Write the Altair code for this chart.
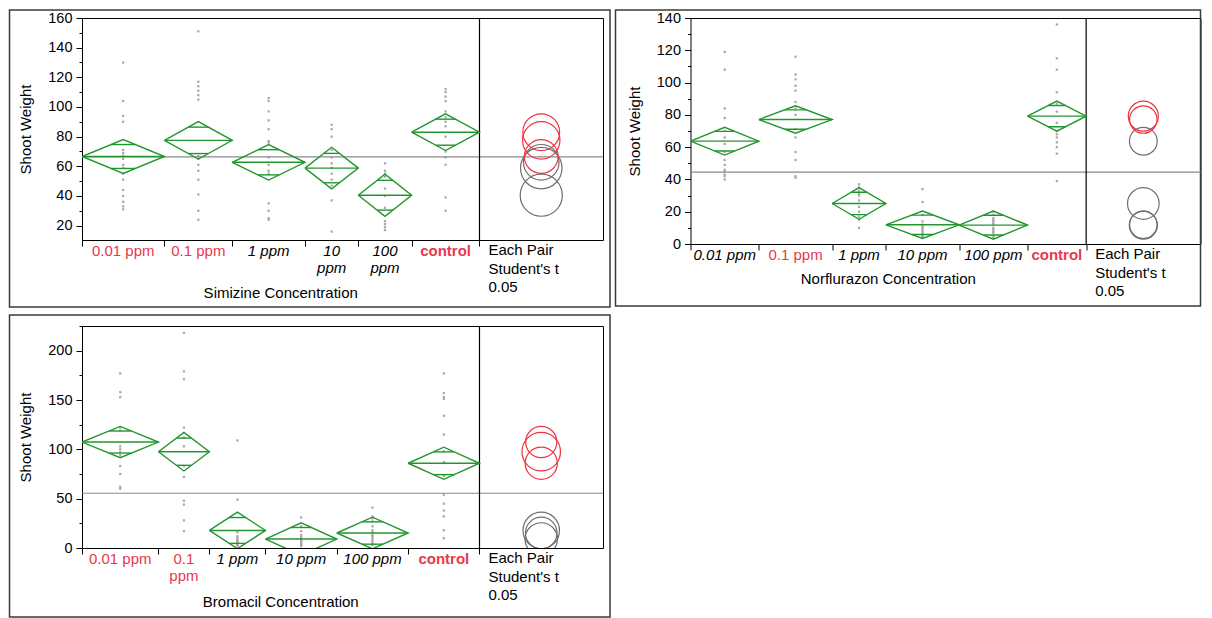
import altair as alt
import numpy as np
import pandas as pd

FONT = "Liberation Sans"
RED_TXT = "#e8384d"
RED_C = "#ee3340"
GRAY_C = "#6f6f6f"
GREEN = "#22962e"
PT = "#a8a8a8"
FRAME = "#3a3a3a"

# ---------------- Simizine ----------------
sim_labels = ["0.01 ppm", "0.1 ppm", "1 ppm", "10\nppm", "100\nppm", "control"]
sim_n = [17, 14, 15, 11, 11, 14]
sim_mean = [66.6, 77.5, 62.7, 58.8, 40.5, 83.0]
sim_ci = [11.4, 12.6, 12.0, 14.0, 14.2, 12.4]
sim_sig = [True, True, False, False, False, True]
sim_grand = 66.3
sim_p001 = [130, 104, 94, 90, 71, 69, 67, 65, 61, 59, 55, 51, 44, 40, 36, 33, 31]
sim_p01 = [151, 117, 114, 111, 108, 105, 67, 65, 61, 57, 51, 41, 30, 24]
sim_p1 = [106, 104, 97, 91, 85, 77, 76, 66, 61, 57, 55, 35, 30, 25, 24]
sim_p10 = [88, 85, 80, 71, 66, 62, 59, 55, 51, 47, 37, 16]
sim_p100 = [62, 57, 55, 53, 45, 40, 32, 23, 21, 19, 17]
sim_pctl = [112, 110, 107, 104, 97, 93, 90, 87, 80, 70, 66, 61, 39, 30]

# ---------------- Norflurazon ----------------
nor_labels = ["0.01 ppm", "0.1 ppm", "1 ppm", "10 ppm", "100 ppm", "control"]
nor_n = [14, 15, 11, 15, 14, 12]
nor_mean = [63.7, 77.1, 25.1, 11.9, 11.7, 79.2]
nor_ci = [8.6, 8.5, 9.8, 8.5, 8.7, 9.3]
nor_sig = [False, True, False, False, False, True]
nor_grand = 44.5
nor_p001 = [119, 108, 84, 78, 70, 66, 62, 57, 52, 49, 46, 45, 43, 42, 40]
nor_p01 = [116, 105, 102, 98, 95, 88, 84, 80, 71, 66, 57, 52, 42, 41]
nor_p1 = [37, 35, 33, 31, 30, 27, 23, 20, 17, 15, 10]
nor_p10 = [34, 26, 18, 14, 12, 11, 10, 9, 8, 7, 6, 5, 5, 4, 4]
nor_p100 = [20, 18, 16, 15, 14, 13, 12, 10, 9, 8, 7, 5, 4]
nor_pctl = [136, 115, 108, 94, 87, 82, 75, 70, 68, 66, 63, 60, 56, 39]

# ---------------- Bromacil ----------------
bro_labels = ["0.01 ppm", "0.1\nppm", "1 ppm", "10 ppm", "100 ppm", "control"]
bro_n = [15, 10, 11, 14, 14, 14]
bro_mean = [107.4, 97.6, 17.8, 9.1, 15.2, 85.9]
bro_ci = [15.8, 19.5, 18.5, 16.5, 16.0, 16.3]
bro_sig = [True, True, False, False, False, True]
bro_grand = 55.5
bro_p001 = [177, 158, 153, 122, 119, 103, 100, 97, 94, 83, 75, 62, 60]
bro_p01 = [218, 179, 171, 122, 112, 103, 83, 72, 48, 44, 28, 17]
bro_p1 = [109, 49, 16, 12, 10, 8, 7, 6, 5, 4, 3, 2]
bro_p10 = [31, 22, 17, 13, 11, 10, 9, 8, 7, 6, 5, 4, 3, 2]
bro_p100 = [41, 32, 30, 27, 22, 18, 16, 13, 12, 10, 8, 6, 4, 3]
bro_pctl = [177, 157, 153, 151, 134, 115, 98, 87, 73, 54, 45, 38, 32, 18, 10]


def build_panel(labels, n, mean, ci, sig, pts, grand, ydom, yticks, ylabstep,
                W, H, cmp_frac, xtitle, frame, title_dy):
    n = np.asarray(n, float)
    x1 = np.cumsum(n)
    x0 = x1 - n
    xc = (x0 + x1) / 2
    total = float(x1[-1])
    xmax = total * (1 + cmp_frac)
    xcmp = total * (1 + cmp_frac / 2)
    ppu = H / (ydom[1] - ydom[0])

    xs = alt.Scale(domain=[0, xmax], nice=False, zero=False)
    ys = alt.Scale(domain=list(ydom), nice=False, zero=False)
    xaxis = alt.Axis(values=[0.0] + [float(v) for v in x1], labels=False,
                     ticks=True, tickSize=6, tickColor="black", domain=False,
                     grid=False)
    yaxis = alt.Axis(values=yticks,
                     labelExpr=f"datum.value % {ylabstep} === 0 ? datum.label : ''",
                     tickSize={"condition": {"test": f"datum.value % {ylabstep} === 0",
                                             "value": 6}, "value": 3},
                     tickColor="black", domain=False, grid=False,
                     labelFontSize=14.5, labelColor="black", labelPadding=4,
                     titleFontSize=15, titleFontWeight="normal", titleColor="black",
                     titlePadding=14)

    def X(f):
        return alt.X(f, type="quantitative", scale=xs, axis=xaxis, title=None)

    def Y(f):
        return alt.Y(f, type="quantitative", scale=ys, axis=yaxis, title="Shoot Weight")

    prow = []
    for i, vals in enumerate(pts):
        for v in vals:
            prow.append({"x": float(xc[i]), "y": float(v)})
    pdf = pd.DataFrame(prow)

    drow = []
    for i in range(len(n)):
        m, h = mean[i], ci[i]
        verts = [(x0[i], m), (xc[i], m + h), (x1[i], m), (xc[i], m - h), (x0[i], m)]
        for k, (vx, vy) in enumerate(verts):
            drow.append({"g": i, "k": k, "x": float(vx), "y": float(vy)})
    ddf = pd.DataFrame(drow)

    mdf = pd.DataFrame({"x0": x0, "x1": x1, "y": mean})
    f = 1 - 1 / np.sqrt(2)
    orow = []
    for i in range(len(n)):
        hw = n[i] / 2 * f
        for s in (1, -1):
            orow.append({"x0": float(xc[i] - hw), "x1": float(xc[i] + hw),
                         "y": float(mean[i] + s * ci[i] / np.sqrt(2))})
    odf = pd.DataFrame(orow)

    gdf = pd.DataFrame({"x0": [0.0], "x1": [xmax], "y": [grand]})
    vdf = pd.DataFrame({"x": [total]})

    cdf = pd.DataFrame({
        "x": [xcmp] * len(n),
        "y": mean,
        "s": [(2 * c * ppu) ** 2 for c in ci],
        "c": [RED_C if s else GRAY_C for s in sig],
        "o": [1 if s else 0 for s in sig],
    }).sort_values("o")

    styles = []
    for i, lab in enumerate(labels):
        if lab == "control":
            styles.append("bold")
        elif sig[i]:
            styles.append("red")
        else:
            styles.append("italic")
    ldf = pd.DataFrame({"x": xc, "label": labels, "style": styles})

    fx0, fx1, fy0, fy1 = frame
    frame_l = alt.Chart(pd.DataFrame({"a": [0]})).mark_rect(
        fillOpacity=0, stroke=FRAME, strokeWidth=1.5).encode(
        x=alt.value(fx0), x2=alt.value(fx1), y=alt.value(fy0), y2=alt.value(fy1))

    pts_l = alt.Chart(pdf).mark_square(size=5, color=PT, opacity=1).encode(
        x=X("x"), y=Y("y"))
    grand_l = alt.Chart(gdf).mark_rule(color="#8a8a8a", strokeWidth=1.2).encode(
        x=X("x0"), x2="x1", y=Y("y"))
    div_l = alt.Chart(vdf).mark_rule(color="black", strokeWidth=1.2).encode(x=X("x"))
    dia_l = alt.Chart(ddf).mark_line(color=GREEN, strokeWidth=1.4, clip=True).encode(
        x=X("x"), y=Y("y"), detail="g:N", order="k:Q")
    mean_l = alt.Chart(mdf).mark_rule(color=GREEN, strokeWidth=1.4, clip=True).encode(
        x=X("x0"), x2="x1", y=Y("y"))
    ovl_l = alt.Chart(odf).mark_rule(color=GREEN, strokeWidth=1.4, clip=True).encode(
        x=X("x0"), x2="x1", y=Y("y"))
    circ_l = alt.Chart(cdf).mark_point(shape="circle", filled=False, strokeWidth=1.2,
                                       clip=True, opacity=1).encode(
        x=X("x"), y=Y("y"),
        size=alt.Size("s:Q", scale=None, legend=None),
        color=alt.Color("c:N", scale=None, legend=None),
        order="o:Q")

    lab_layers = []
    for st, col, fs, fw in [("red", RED_TXT, "normal", "normal"),
                            ("italic", "black", "italic", "normal"),
                            ("bold", RED_TXT, "normal", "bold")]:
        lab_layers.append(
            alt.Chart(ldf).transform_filter(alt.datum.style == st).mark_text(
                font=FONT, fontSize=15, color=col, fontStyle=fs, fontWeight=fw,
                baseline="top", align="center", lineBreak="\n", lineHeight=17).encode(
                x=X("x"), y=alt.value(H + 4), text="label:N"))

    cmp_txt = alt.Chart(pd.DataFrame({"x": [total], "t": ["Each Pair\nStudent's t\n0.05"]})
                        ).mark_text(font=FONT, fontSize=15, color="black", align="left",
                                    baseline="top", dx=9, lineBreak="\n",
                                    lineHeight=18.5).encode(
        x=X("x"), y=alt.value(H + 3), text="t:N")
    xt = alt.Chart(pd.DataFrame({"x": [total / 2], "t": [xtitle]})).mark_text(
        font=FONT, fontSize=15, color="black", align="center", baseline="middle").encode(
        x=X("x"), y=alt.value(H + title_dy), text="t:N")

    return alt.layer(frame_l, pts_l, grand_l, div_l, dia_l, mean_l, ovl_l, circ_l,
                     *lab_layers, cmp_txt, xt).properties(width=W, height=H)


p1 = build_panel(sim_labels, sim_n, sim_mean, sim_ci, sim_sig,
                 [sim_p001, sim_p01, sim_p1, sim_p10, sim_p100, sim_pctl],
                 sim_grand, (10.3, 160), list(range(20, 161, 10)), 20,
                 521, 222, 0.3107, "Simizine Concentration",
                 (-72.5, 521 + 7, -8, 289), 53)
p2 = build_panel(nor_labels, nor_n, nor_mean, nor_ci, nor_sig,
                 [nor_p001, nor_p01, nor_p1, nor_p10, nor_p100, nor_pctl],
                 nor_grand, (0, 140), list(range(0, 141, 10)), 20,
                 510, 226, 0.289, "Norflurazon Concentration",
                 (-75, 510, -8, 288), 35)
p3 = build_panel(bro_labels, bro_n, bro_mean, bro_ci, bro_sig,
                 [bro_p001, bro_p01, bro_p1, bro_p10, bro_p100, bro_pctl],
                 bro_grand, (0, 225), list(range(0, 226, 25)), 50,
                 521, 222, 0.3107, "Bromacil Concentration",
                 (-72.5, 521 + 7, -11, 222 + 69), 54)

chart = alt.concat(p1, p2, p3, columns=2, spacing={"row": 4, "column": 1.5},
                   align="each", bounds="full").properties(padding=0).configure_view(
    stroke="black", strokeWidth=1).configure_axis(
    labelFont=FONT, titleFont=FONT).configure_text(font=FONT)

chart.save("out.html", embed_options={"renderer": "svg", "actions": False})
